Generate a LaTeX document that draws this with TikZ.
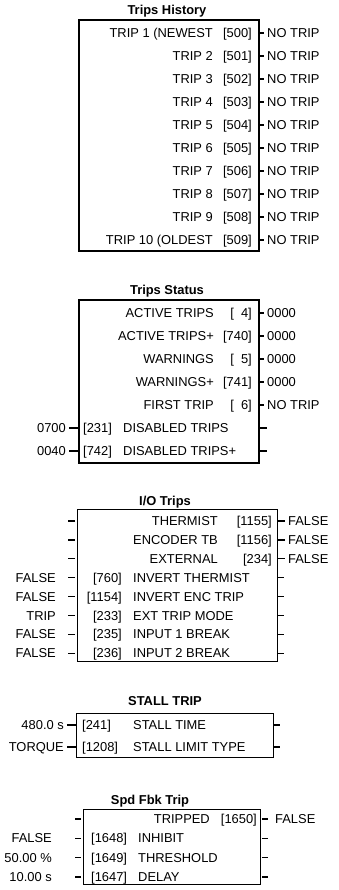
\documentclass[tikz,border=0pt]{standalone}
\usepackage{fontspec}
\setmainfont{Liberation Sans}

\begin{document}
\begin{tikzpicture}[x=1pt, y=-1pt,
    every node/.style={font=\fontsize{12.9}{15}\selectfont, inner sep=0pt,
      text height=9.3pt, text depth=0pt},
    ttl/.style={font=\fontsize{12.9}{15}\selectfont\bfseries},
    blk/.style={draw=black, line width=1.1pt, anchor=north west},
    val/.style={inner xsep=3pt},
    pin/.style={line width=1.4pt}
  ]
  \useasboundingbox (0,0) rectangle (338,890);

  % Trips History
  \node[ttl] (histT) at (167,10) {Trips History};
  \node[blk, line width=2pt, minimum width=180pt, minimum height=231pt] (hist) at (78,19) {};
  \foreach \nm [count=\i, evaluate=\i as \yy using 10+23*\i, evaluate=\i as \pn using int(499+\i)]
      in {{TRIP 1 (NEWEST},TRIP 2,TRIP 3,TRIP 4,TRIP 5,TRIP 6,TRIP 7,TRIP 8,TRIP 9,{TRIP 10 (OLDEST}} {
    \node[anchor=east] (hn\i) at (213,\yy) {\nm};
    \node[anchor=east] (hp\i) at (252,\yy) {[\pn]};
    \node[val, anchor=west] (hv\i) at (264,\yy) {NO TRIP};
    \draw[pin] (hist.east |- hv\i) -- (hv\i.west);
  }

  % Trips Status
  \node[ttl] (statT) at (167,290) {Trips Status};
  \node[blk, line width=2pt, minimum width=180pt, minimum height=163pt] (stat) at (78,299) {};
  \foreach \nm/\pn/\vl [count=\i, evaluate=\i as \yy using 290+23*\i]
      in {ACTIVE TRIPS/\hphantom{0}4/0000, ACTIVE TRIPS+/740/0000, WARNINGS/\hphantom{0}5/0000,
          WARNINGS+/741/0000, FIRST TRIP/\hphantom{0}6/NO TRIP} {
    \node[anchor=east] (on\i) at (214,\yy) {\nm};
    \node[anchor=east] (op\i) at (252,\yy) {[\pn]};
    \node[val, anchor=west] (ov\i) at (264,\yy) {\vl};
    \draw[pin] (stat.east |- ov\i) -- (ov\i.west);
  }
  \foreach \nm/\pn/\vl [count=\i, evaluate=\i as \yy using 405+23*\i]
      in {DISABLED TRIPS/231/0700, DISABLED TRIPS+/742/0040} {
    \node[anchor=west] (sp\i) at (83,\yy) {[\pn]};
    \node[anchor=west] (sn\i) at (123,\yy) {\nm};
    \node[val, anchor=east] (sv\i) at (69,\yy) {\vl};
    \draw[pin] (sv\i.east) -- (stat.west |- sv\i);
    \draw[pin] (stat.east |- sv\i) -- ++(7,0);
  }

  % I/O Trips
  \node[ttl] (ioT) at (165,501) {I/O Trips};
  \node[blk, minimum width=200pt, minimum height=152pt] (io) at (77,509) {};
  \foreach \nm/\pn [count=\i, evaluate=\i as \yy using 502+18.9*\i]
      in {THERMIST/1155, ENCODER TB/1156, EXTERNAL/234} {
    \node[anchor=east] (ion\i) at (218,\yy) {\nm};
    \node[anchor=east] (iop\i) at (272,\yy) {[\pn]};
    \node[val, anchor=west] (iov\i) at (285,\yy) {FALSE};
    \draw[pin] (io.east |- iov\i) -- (iov\i.west);
    \draw[pin] (io.west |- iov\i) ++(-2,0) -- ++(-7,0);
  }
  \foreach \nm/\pn/\vl [count=\j from 4, evaluate=\j as \yy using 502+18.9*\j]
      in {INVERT THERMIST/760/FALSE, INVERT ENC TRIP/1154/FALSE, EXT TRIP MODE/233/TRIP,
          INPUT 1 BREAK/235/FALSE, INPUT 2 BREAK/236/FALSE} {
    \node[anchor=east] (iip\j) at (122,\yy) {[\pn]};
    \node[anchor=west] (iin\j) at (133,\yy) {\nm};
    \node[val, anchor=east] (iiv\j) at (59,\yy) {\vl};
    \draw[pin] (io.west |- iiv\j) ++(-2,0) -- ++(-7,0);
    \draw[pin] (io.east |- iiv\j) -- ++(6,0);
  }

  % STALL TRIP
  \node[ttl] (stallT) at (165,701) {STALL TRIP};
  \node[blk, minimum width=197pt, minimum height=44pt] (stall) at (76,713) {};
  \foreach \nm/\pn/\vl [count=\i, evaluate=\i as \yy using 703+22*\i]
      in {STALL TIME/241/480.0 s, STALL LIMIT TYPE/1208/TORQUE} {
    \node[anchor=west] (tp\i) at (82,\yy) {[\pn]};
    \node[anchor=west] (tn\i) at (133,\yy) {\nm};
    \node[val, anchor=east] (tv\i) at (67,\yy) {\vl};
    \draw[pin] (tv\i.east) -- (stall.west |- tv\i);
    \draw[pin] (stall.east |- tv\i) -- ++(6,0);
  }

  % Spd Fbk Trip
  \node[ttl] (spdT) at (150,800) {Spd Fbk Trip};
  \node[blk, minimum width=177pt, minimum height=75pt] (spd) at (83,809) {};
  \node[anchor=east] (fn0) at (210,819) {TRIPPED};
  \node[anchor=east] (fp0) at (257,819) {[1650]};
  \node[val, anchor=west] (fv0) at (272,819) {FALSE};
  \draw[pin] (spd.east |- fv0) ++(1,0) -- ++(6,0);
  \draw[pin] (spd.west |- fv0) ++(-2,0) -- ++(-6,0);
  \foreach \nm/\pn/\vl [count=\i, evaluate=\i as \yy using 819+19.3*\i]
      in {INHIBIT/1648/FALSE, THRESHOLD/1649/50.00 \%, DELAY/1647/10.00 s} {
    \node[anchor=west] (fp\i) at (91,\yy) {[\pn]};
    \node[anchor=west] (fn\i) at (138,\yy) {\nm};
    \node[val, anchor=east] (fv\i) at (55,\yy) {\vl};
    \draw[pin] (spd.west |- fv\i) ++(-2,0) -- ++(-6,0);
    \draw[pin] (spd.east |- fv\i) ++(1,0) -- ++(6,0);
  }
\end{tikzpicture}
\end{document}
